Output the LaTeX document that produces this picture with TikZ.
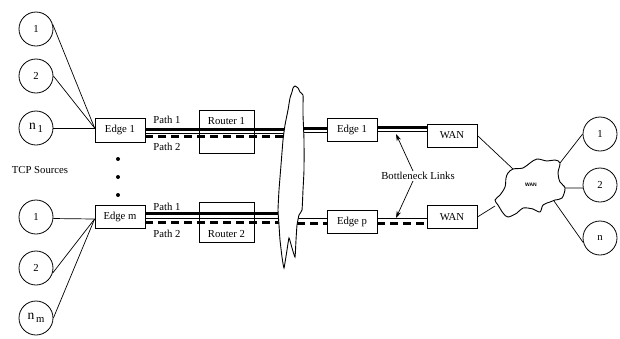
\documentclass[tikz,border=0pt]{standalone}
\usepackage{fontspec}
\setmainfont{Liberation Serif}
\newfontfamily\wanfont{Liberation Sans}
\usetikzlibrary{arrows.meta}
\begin{document}
\begin{tikzpicture}[x=1pt,y=-1pt,
  every node/.style={font=\fontsize{10.7}{12}\selectfont},
  box/.style={draw, line width=0.8pt, minimum width=50pt, minimum height=23pt, inner sep=0pt},
  rbox/.style={draw, line width=0.8pt, minimum width=55pt, inner sep=0pt},
  src/.style={draw, circle, line width=0.8pt, minimum size=34pt, inner sep=0pt},
  lbl/.style={inner sep=0pt},
  thinl/.style={line width=0.75pt},
  thickl/.style={line width=3pt},
  dashl/.style={line width=3pt, dash pattern=on 8pt off 5pt},
  conn/.style={line width=0.7pt},
  arr/.style={line width=0.7pt, -{Stealth[length=7pt,width=4.5pt]}},
  cloudl/.style={line width=0.9pt, fill=white}
]
\useasboundingbox (0,0) rectangle (620,338);

% sources left
\node[src] (u1) at (36,29) {1};
\node[src] (u2) at (36,76) {2};
\node[src] (u3) at (36,128) {{\fontsize{13.5}{13}\selectfont n}\,\raisebox{-2.5pt}{1}};
\node[src] (l1) at (36,217) {1};
\node[src] (l2) at (36,268) {2};
\node[src] (lm) at (36,318) {{\fontsize{13.5}{13}\selectfont n}\,\raisebox{-3pt}{m}};

\node[lbl] (tcp) at (40,170) {TCP Sources};
\fill (118,159) circle (2) (118,177) circle (2) (118,195) circle (2);

% edges and routers
\node[box, minimum height=24pt] (e1) at (120,130) {Edge 1};
\node[box] (em) at (120,217) {Edge m};
\node[rbox, minimum height=43pt] (r1) at (226.5,131.5) {};
\node[rbox, minimum height=40pt] (r2) at (226.5,222) {};
\node[lbl] (r1t) at (226.5,121) {Router 1};
\node[lbl] (r2t) at (226.5,234) {Router 2};
\node[box] (e1r) at (352,130) {Edge 1};
\node[box] (ep) at (352,221.5) {Edge p};
\node[box] (w1) at (452,135.5) {WAN};
\node[box] (w2) at (452,217) {WAN};

\node[lbl] (p1u) at (167,120) {Path 1};
\node[lbl] (p2u) at (167,147) {Path 2};
\node[lbl] (p1l) at (167,207) {Path 1};
\node[lbl] (p2l) at (167,234) {Path 2};

% source connectors
\draw[conn] (u1.15) -- ([yshift=2pt]e1.west);
\draw[conn] (u2.east) -- ([yshift=2pt]e1.west);
\draw[conn] (u3.east) -- ([yshift=2pt]e1.west);
\draw[conn] (l1.-5) -- ([yshift=-2pt]em.west);
\draw[conn] (l2.-17) -- ([yshift=-2pt]em.west);
\draw[conn] (lm.east) -- ([yshift=-2pt]em.west);

% cloud edge coordinates
\coordinate (cul) at (288,130);
\coordinate (cur) at (300,130);
\coordinate (cll) at (285,217);
\coordinate (clr) at (297,217);

% upper left links
\draw[thickl] ([yshift=0.7pt]e1.east) -- ([yshift=0.7pt]cul);
\draw[thinl] ([yshift=-2.9pt]e1.east) -- ([yshift=-2.9pt]cul);
\draw[dashl] ([yshift=-6.8pt]e1.east) -- ([yshift=-6.8pt]cul);
% lower left links
\draw[thickl] ([yshift=3.2pt]em.east) -- ([yshift=3.2pt]cll);
\draw[thinl] ([yshift=-0.9pt]em.east) -- ([yshift=-0.9pt]cll);
\draw[dashl] ([yshift=-5pt]em.east) -- ([yshift=-5pt]cll);
% upper right links
\draw[thickl] ([yshift=1.2pt]cur) -- ([yshift=1.2pt]e1r.west);
\draw[thinl] ([yshift=-2.4pt]cur) -- ([yshift=-2.4pt]e1r.west);
\draw[thickl] ([yshift=2.2pt]e1r.east) -- ([yshift=7.7pt]w1.west);
\draw[thinl] ([yshift=-1.4pt]e1r.east) -- ([yshift=4.1pt]w1.west);
% lower right links
\draw[thinl] ([yshift=-1.8pt]clr) -- ([yshift=2.7pt]ep.west);
\draw[dashl] ([yshift=-6pt]clr) -- ([yshift=-1.5pt]ep.west);
\draw[thinl] ([yshift=2.7pt]ep.east) -- ([yshift=-1.8pt]w2.west);
\draw[dashl] ([yshift=-1.5pt]ep.east) -- ([yshift=-6pt]w2.west);

% middle cloud
\draw[cloudl] plot[smooth cycle, tension=0.25] coordinates {
 (293,88) (295,86) (298,88) (300,92) (303,95) (303,105) (303,115) (304,140) (304,170)
 (303,190) (302,210) (299,215) (297,225) (296,240) (295,257) (292,248) (289,238)
 (287,250) (284,268) (282,257) (280,240) (279,225) (278,210) (279,190) (281,165) (283,140)
 (285,125) (288,110) (290,98) (292,92)};

% bottleneck
\node[lbl] (bn) at (418,176) {Bottleneck Links};
\coordinate (a1) at (396,134);
\coordinate (a2) at (396,218);
\draw[arr] ([xshift=-5pt,yshift=1pt]bn.north) -- (a1);
\draw[arr] ([xshift=-5pt,yshift=-1pt]bn.south) -- (a2);

% WAN cloud
\draw[line width=0.9pt, fill=white] plot[smooth cycle, tension=0.55] coordinates {
 (513,169) (523,168) (530,163) (537,159) (547,161) (555,160) (560,163) (558,173)
 (560,182) (565,188) (562,198) (555,200) (550,202) (543,205) (540,212) (533,209)
 (523,208) (517,213) (508,217) (503,213) (498,205) (495,200) (500,195) (505,187)
 (506,178) (508,173)};
\node[lbl, font=\wanfont\bfseries\fontsize{5}{6}\selectfont] (wan) at (531,185) {WAN};
\coordinate (wc1) at (513,169);
\coordinate (wc2) at (495,206);
\coordinate (wc3) at (560,163);
\coordinate (wc4) at (565,188);
\coordinate (wc5) at (554,201);

\node[src] (r1c) at (600,134) {1};
\node[src] (r2c) at (600,185) {2};
\node[src] (rnc) at (600,238) {n};

\draw[conn] (w1.east) -- (wc1);
\draw[conn] (w2.east) -- (wc2);
\draw[conn] (r1c.west) -- (wc3);
\draw[conn] (r2c.190) -- (wc4);
\draw[conn] (rnc.195) -- (wc5);
\end{tikzpicture}
\end{document}
